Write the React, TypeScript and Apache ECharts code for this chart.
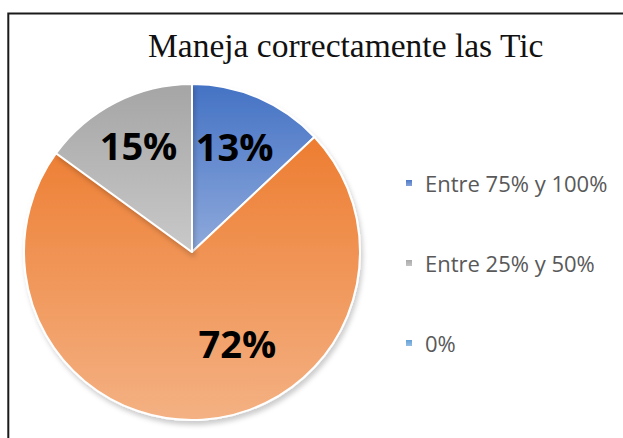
import React, { useEffect, useRef } from "react";
import * as echarts from "echarts";

const titleText = "Maneja correctamente las Tic";
const categories = ["Entre 75% y 100%", "Entre 50% y 75%", "Entre 25% y 50%", "0%"];
const values = [13, 72, 15, 0];
const legendItems = ["Entre 75% y 100%", "Entre 25% y 50%", "0%"];

const grad = (a: string, b: string) => ({
  type: "linear",
  x: 0,
  y: 0,
  x2: 0,
  y2: 1,
  colorStops: [
    { offset: 0, color: a },
    { offset: 1, color: b },
  ],
});

const sliceColors = [
  grad("#4472C4", "#8FAADC"),
  grad("#ED7D31", "#F4B183"),
  grad("#A5A5A5", "#C9C9C9"),
  grad("#5B9BD5", "#9DC3E6"),
];
const legendColors = ["#4472C4", "#ED7D31", "#A5A5A5", "#5B9BD5"];
const labelOffsets = [
  [8, -26],
  [40, 4],
  [-14, -29],
  [0, 0],
];

export default function App() {
  const ref = useRef<HTMLDivElement>(null);
  useEffect(() => {
    if (!ref.current) return;
    const chart = echarts.init(ref.current, undefined, { renderer: "svg" });
    chart.setOption({
      animation: false,
      backgroundColor: "#ffffff",
      title: {
        text: titleText,
        left: 148,
        top: 28,
        padding: 0,
        textStyle: {
          fontFamily: "Liberation Serif",
          fontSize: 33.5,
          fontWeight: "normal",
          color: "#111111",
        },
      },
      legend: {
        orient: "vertical",
        left: 404,
        top: 171,
        padding: 0,
        data: legendItems,
        itemWidth: 8,
        itemHeight: 8,
        itemGap: 56,
        icon: "rect",
        textStyle: {
          fontFamily: "Open Sans",
          fontSize: 22,
          color: "#595959",
          lineHeight: 24,
          padding: [0, 0, 0, 7],
        },
      },
      graphic: [
        {
          type: "rect",
          shape: { x: 8.3, y: 13.5, width: 800, height: 600 },
          style: { fill: "none", stroke: "#1a1a1a", lineWidth: 2 },
          silent: true,
          z: 10,
        },
      ],
      series: [
        {
          type: "pie",
          center: [192, 252],
          radius: 168,
          startAngle: 90,
          clockwise: true,
          avoidLabelOverlap: false,
          labelLine: { show: false },
          itemStyle: {
            borderColor: "#ffffff",
            borderWidth: 2,
            shadowColor: "rgba(0,0,0,0.2)",
            shadowBlur: 5,
            shadowOffsetX: 2,
            shadowOffsetY: 4,
          },
          label: {
            show: true,
            position: "inside",
            formatter: "{d}%",
            fontFamily: "Open Sans",
            fontWeight: "bold",
            fontSize: 38,
            color: "#000000",
          },
          data: categories.map((name, i) => ({
            name,
            value: values[i],
            itemStyle: { color: sliceColors[i] },
            label: values[i] === 0 ? { show: false } : { offset: labelOffsets[i] },
          })),
        },
      ],
      color: legendColors,
    });
    return () => chart.dispose();
  }, []);
  return (
    <div
      ref={ref}
      style={{ position: "absolute", left: 0, top: 0, width: 623, height: 438 }}
    />
  );
}
